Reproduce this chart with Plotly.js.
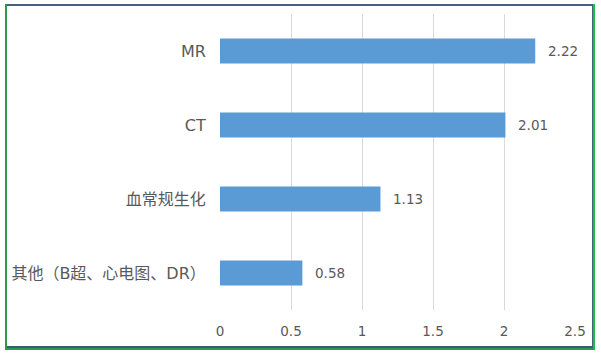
<!DOCTYPE html>
<html>
<head>
<meta charset="utf-8">
<script src="https://cdn.plot.ly/plotly-3.0.1.min.js"></script>
<style>
html,body{margin:0;padding:0;background:#fff;width:601px;height:357px;overflow:hidden;}
#frame{position:absolute;left:5px;top:4px;width:586px;height:344px;border-left:2px solid #2a9a4e;border-right:2px solid #19c43a;border-bottom:2px solid #2a9a4e;}
#inner{position:absolute;left:0;top:0;right:0;bottom:0;border-top:2px solid #46607e;border-right:1px solid #46607e;border-bottom:2px solid #3d5b6e;}
#chart{position:absolute;left:0;top:0;width:601px;height:357px;}
</style>
</head>
<body>
<div id="chart"></div>
<div id="frame"><div id="inner"></div></div>
<script>
const categories = ["其他（B超、心电图、DR）", "血常规生化", "CT", "MR"];
const values = [0.58, 1.13, 2.01, 2.22];
const xTicks = [0, 0.5, 1, 1.5, 2, 2.5];
const xTickLabels = ["0", "0.5", "1", "1.5", "2", "2.5"];

const fontFam = "'DejaVu Sans', 'Noto Sans CJK SC', sans-serif";
const textColor = "#595959";

const trace = {
  type: "bar",
  orientation: "h",
  x: values,
  y: categories,
  marker: {color: "#5b9bd5"},
  width: 0.34,
  hoverinfo: "none"
};

const annotations = values.map((v, i) => ({
  x: v, y: categories[i], xref: "x", yref: "y",
  text: v.toFixed(2), showarrow: false,
  xanchor: "left", yanchor: "middle", xshift: 11,
  font: {family: fontFam, size: 13.5, color: textColor}
}));

const layout = {
  width: 601, height: 357,
  margin: {l: 220, r: 25.5, t: 14, b: 47},
  paper_bgcolor: "#fff", plot_bgcolor: "#fff",
  showlegend: false,
  font: {family: fontFam, color: textColor},
  xaxis: {
    range: [0, 2.5], tickvals: xTicks, ticktext: xTickLabels,
    showgrid: true, gridcolor: "#d9d9d9", gridwidth: 1,
    zeroline: false, showline: false,
    ticks: "outside", ticklen: 9, tickcolor: "rgba(0,0,0,0)",
    tickfont: {family: fontFam, size: 13.5, color: textColor},
    fixedrange: true
  },
  yaxis: {
    type: "category", categoryorder: "array", categoryarray: categories,
    showgrid: false, zeroline: false, showline: false,
    ticks: "outside", ticklen: 10, tickcolor: "rgba(0,0,0,0)",
    tickfont: {family: fontFam, size: 16, color: textColor},
    fixedrange: true
  },
  annotations: annotations,
  bargap: 0.66
};

Plotly.newPlot("chart", [trace], layout, {staticPlot: true, displayModeBar: false});
</script>
</body>
</html>
